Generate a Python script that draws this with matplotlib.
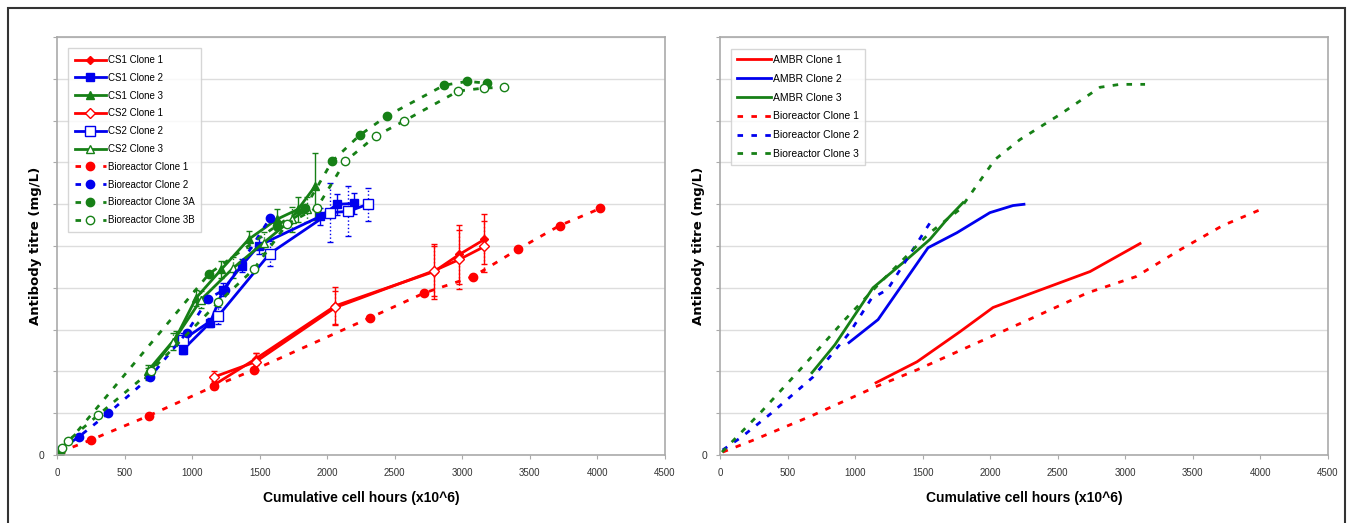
import matplotlib
matplotlib.use('Agg')
import matplotlib.pyplot as plt
from matplotlib.patches import Rectangle

plt.rcParams['font.family'] = ['Liberation Sans', 'DejaVu Sans']

# ---- left panel data (y in grid units, labels hidden in the original) ----
bio1_x = [20, 250, 680, 1165, 1460, 2320, 2720, 3080, 3410, 3720, 4020]
bio1_y = [0.07, 0.36, 0.94, 1.65, 2.04, 3.29, 3.88, 4.27, 4.92, 5.49, 5.9]

bio2_x = [20, 160, 380, 690, 960, 1120, 1240, 1575]
bio2_y = [0.12, 0.43, 1.0, 1.87, 2.93, 3.74, 3.96, 5.66]

bio3a_x = [22, 1127, 1627, 1836, 2037, 2239, 2440, 2866, 3037, 3179]
bio3a_y = [0.07, 4.34, 5.49, 5.92, 7.03, 7.65, 8.11, 8.85, 8.94, 8.90]

bio3b_x = [37, 82, 306, 694, 1194, 1455, 1701, 1925, 2134, 2358, 2567, 2970, 3157, 3306]
bio3b_y = [0.17, 0.34, 0.96, 2.01, 3.65, 4.44, 5.52, 5.92, 7.03, 7.63, 7.99, 8.71, 8.78, 8.80]

cs1c1_x = [1164, 1470, 2060, 2791, 2978, 3164]
cs1c1_y = [1.68, 2.30, 3.57, 4.39, 4.80, 5.16]
cs1c1_e = [0.1, 0.15, 0.45, 0.65, 0.7, 0.6]
cs2c1_x = [1164, 1470, 2060, 2791, 2978, 3164]
cs2c1_y = [1.87, 2.23, 3.53, 4.41, 4.68, 4.99]
cs2c1_e = [0.15, 0.2, 0.4, 0.6, 0.7, 0.6]

cs1c2_x = [933, 1134, 1231, 1366, 1493, 1948, 2075, 2201]
cs1c2_y = [2.52, 3.17, 3.96, 4.53, 5.01, 5.71, 6.0, 6.02]
cs1c2_e = [0.1, 0.1, 0.15, 0.15, 0.2, 0.2, 0.25, 0.25]
cs2c2_x = [933, 1194, 1575, 2022, 2157, 2299]
cs2c2_y = [2.76, 3.33, 4.82, 5.80, 5.83, 6.0]
cs2c2_e = [0.15, 0.2, 0.3, 0.7, 0.6, 0.4]

cs1c3_x = [672, 881, 1030, 1216, 1418, 1627, 1784, 1910]
cs1c3_y = [2.01, 2.81, 3.76, 4.44, 5.16, 5.64, 5.88, 6.43]
cs1c3_e = [0.15, 0.15, 0.2, 0.2, 0.2, 0.25, 0.3, 0.8]
cs2c3_x = [672, 858, 1067, 1306, 1530, 1739, 1851]
cs2c3_y = [1.94, 2.71, 3.72, 4.48, 5.08, 5.64, 5.88]
cs2c3_e = [0.15, 0.2, 0.2, 0.25, 0.25, 0.3, 0.3]

# ---- right panel data ----
ambr1_x = [1155, 1458, 1776, 2021, 2221, 2739, 3109]
ambr1_y = [1.73, 2.23, 2.95, 3.53, 3.77, 4.39, 5.06]
ambr2_x = [955, 1170, 1540, 1754, 1998, 2169, 2250]
ambr2_y = [2.69, 3.24, 4.96, 5.32, 5.80, 5.97, 6.0]
ambr3_x = [681, 851, 1132, 1384, 1554, 1680, 1799]
ambr3_y = [1.97, 2.64, 4.0, 4.68, 5.16, 5.64, 6.04]
bio3_x = [15, 296, 592, 925, 1184, 1554, 1776, 2035, 2221, 2517, 2813, 2961, 3146]
bio3_y = [0.07, 1.0, 2.04, 3.24, 4.12, 5.32, 5.88, 7.07, 7.55, 8.15, 8.8, 8.87, 8.87]

xticks = [0, 500, 1000, 1500, 2000, 2500, 3000, 3500, 4000, 4500]

RED, BLUE, GREEN = '#ff0000', '#0000ee', '#168016'
DOT = (0, (2, 3))

fig = plt.figure(figsize=(13.5, 5.23), dpi=100)
fig.patches.append(Rectangle((8 / 1350, -0.05), 1337 / 1350, 1.05 - 8 / 523,
                             transform=fig.transFigure, fill=False,
                             edgecolor='#333333', lw=1.5))

ax1 = fig.add_axes([0.0422, 0.130, 0.4504, 0.799])
ax2 = fig.add_axes([0.5333, 0.130, 0.4504, 0.799])


def style(ax):
    ax.set_xlim(0, 4500)
    ax.set_ylim(0, 10)
    ax.set_xticks(xticks)
    ax.set_xticklabels([str(t) for t in xticks], fontsize=7, color='#333333')
    ax.set_yticks(range(11))
    ax.set_yticklabels(['0'] + [''] * 10, fontsize=7.5, color='#333333')
    ax.yaxis.grid(True, color='#dddddd', lw=1)
    ax.set_axisbelow(True)
    for s in ax.spines.values():
        s.set_color('#aaaaaa')
        s.set_linewidth(1.2)
    ax.tick_params(length=3, color='#aaaaaa', pad=6)
    ax.set_xlabel('Cumulative cell hours (x10^6)', fontsize=10,
                  fontweight='bold', labelpad=10)
    ax.set_ylabel('Antibody titre (mg/L)', fontsize=9.5, fontweight='bold',
                  family='DejaVu Sans')
    ax.yaxis.set_label_coords(-0.025, 0.5)


# left panel: error bars first, then lines with markers for the legend
eb = dict(fmt='none', elinewidth=1, capsize=2)
ax1.errorbar(cs1c1_x, cs1c1_y, yerr=cs1c1_e, ecolor=RED, **eb)
ax1.errorbar(cs1c2_x, cs1c2_y, yerr=cs1c2_e, ecolor=BLUE, **eb)
ax1.errorbar(cs1c3_x, cs1c3_y, yerr=cs1c3_e, ecolor=GREEN, **eb)
for xs, ys, es, c in [(cs2c1_x, cs2c1_y, cs2c1_e, RED),
                      (cs2c2_x, cs2c2_y, cs2c2_e, BLUE),
                      (cs2c3_x, cs2c3_y, cs2c3_e, GREEN)]:
    e = ax1.errorbar(xs, ys, yerr=es, ecolor=c, **eb)
    e[2][0].set_linestyle(':')

ax1.plot(cs1c1_x, cs1c1_y, color=RED, marker='D', ms=4, lw=2, label='CS1 Clone 1')
ax1.plot(cs1c2_x, cs1c2_y, color=BLUE, marker='s', ms=6, lw=2, label='CS1 Clone 2')
ax1.plot(cs1c3_x, cs1c3_y, color=GREEN, marker='^', ms=6, lw=2, label='CS1 Clone 3')
ax1.plot(cs2c1_x, cs2c1_y, color=RED, marker='D', ms=5, mfc='white', lw=2, label='CS2 Clone 1')
ax1.plot(cs2c2_x, cs2c2_y, color=BLUE, marker='s', ms=7, mfc='white', lw=2, label='CS2 Clone 2')
ax1.plot(cs2c3_x, cs2c3_y, color=GREEN, marker='^', ms=6, mfc='white', lw=2, label='CS2 Clone 3')
ax1.plot(bio1_x, bio1_y, color=RED, ls=DOT, lw=2, marker='o', ms=6, label='Bioreactor Clone 1')
ax1.plot(bio2_x, bio2_y, color=BLUE, ls=DOT, lw=2, marker='o', ms=6, label='Bioreactor Clone 2')
ax1.plot(bio3a_x, bio3a_y, color=GREEN, ls=DOT, lw=2, marker='o', ms=6, label='Bioreactor Clone 3A')
ax1.plot(bio3b_x, bio3b_y, color=GREEN, ls=DOT, lw=2, marker='o', ms=6, mfc='white', label='Bioreactor Clone 3B')
style(ax1)
ax1.legend(loc='upper left', bbox_to_anchor=(0.01, 0.985), fontsize=7, frameon=True,
           fancybox=False, edgecolor='#cccccc', handlelength=3.2, labelspacing=0.8,
           borderpad=0.7, handletextpad=0.2)

# right panel
ax2.plot(ambr1_x, ambr1_y, color=RED, lw=2, label='AMBR Clone 1')
ax2.plot(ambr2_x, ambr2_y, color=BLUE, lw=2, label='AMBR Clone 2')
ax2.plot(ambr3_x, ambr3_y, color=GREEN, lw=2, label='AMBR Clone 3')
ax2.plot(bio1_x, bio1_y, color=RED, ls=DOT, lw=2, label='Bioreactor Clone 1')
ax2.plot(bio2_x, bio2_y, color=BLUE, ls=DOT, lw=2, label='Bioreactor Clone 2')
ax2.plot(bio3_x, bio3_y, color=GREEN, ls=DOT, lw=2, label='Bioreactor Clone 3')
style(ax2)
ax2.legend(loc='upper left', bbox_to_anchor=(0.01, 0.985), fontsize=7.5, frameon=True,
           fancybox=False, edgecolor='#cccccc', handlelength=3.2, labelspacing=0.85,
           borderpad=0.6, handletextpad=0.2)

fig.savefig('out.png', dpi=100)
